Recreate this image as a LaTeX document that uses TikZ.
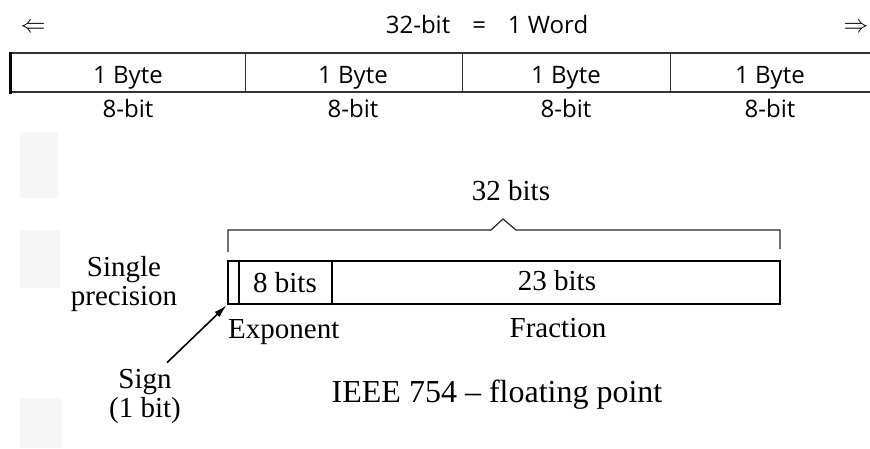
\documentclass[tikz,border=0pt]{standalone}
\usepackage{fontspec}
\setmainfont{Liberation Serif}
\newfontfamily\wordfont{Open Sans}
\usetikzlibrary{arrows.meta}

\tikzset{
  wordtext/.style={font=\wordfont\fontsize{24}{24}\selectfont, inner sep=0pt, anchor=base},
  booktext/.style={font=\fontsize{29}{29}\selectfont, inner sep=0pt},
  gridline/.style={line width=1.4pt, black!80},
  fieldline/.style={line width=1.8pt},
  frameline/.style={line width=2.8pt},
  signarrow/.style={-{Latex[length=13pt,width=7pt]}, line width=1.6pt},
}

\begin{document}
\begin{tikzpicture}[x=1pt,y=-1pt]
  \useasboundingbox (0,0) rectangle (870,448);

  % Scan shading on the left margin
  \fill[black!3] (20,132) rectangle (58,198);
  \fill[black!3] (20,230) rectangle (60,288);
  \fill[black!3] (20,398) rectangle (62,448);

  % Word header
  \node[font=\fontsize{27}{27}\selectfont] (larrow) at (33,28) {$\Leftarrow$};
  \node[wordtext] (word) at (487,33) {32-bit\hspace{22pt}=\hspace{22pt}1 Word};
  \node[font=\fontsize{27}{27}\selectfont] (rarrow) at (856,28) {$\Rightarrow$};

  % Byte table
  \draw[gridline] (10,53) -- (870,53);
  \draw[gridline] (10,92) -- (870,92);
  \draw[line width=3pt] (10,51.5) -- (10,93.5);
  \foreach \x in {245,462,670}
    \draw[gridline, line width=1pt] (\x,53) -- (\x,92);
  \foreach \x/\n in {128/1,353/2,566/3,770/4} {
    \node[wordtext] (byte\n) at (\x,83) {1 Byte};
    \node[wordtext] (bits\n) at (\x,117) {8-bit};
  }

  % Bracket over the single precision word
  \node[booktext, anchor=base] (total) at (511,200) {32 bits};
  \draw[line width=1.2pt, black!85] (228,252) -- (228,230) -- (491,230)
    -- (503,219) -- (516,230) -- (780,230) -- (780,249);

  % Fields: sign, exponent, fraction
  \draw[frameline] (228,261) rectangle (780,304);
  \draw[fieldline] (239,261) -- (239,304);
  \draw[fieldline] (332,261) -- (332,304);
  \node[booktext, anchor=base] (expbits) at (285,292) {8 bits};
  \node[booktext, anchor=base] (fracbits) at (557,290) {23 bits};
  \node[booktext, anchor=base west] (exponent) at (228,338) {Exponent};
  \node[booktext, anchor=base] (fraction) at (558,337) {Fraction};
  \coordinate (signbit) at (228,304);

  % Labels on the left
  \node[booktext, align=center] (single) at (124,284) {Single\\precision};
  \node[booktext, align=center] (sign) at (145,396) {Sign\\(1 bit)};
  \draw[signarrow, shorten >=2pt] ([xshift=-14pt,yshift=6pt]sign.north east) -- (signbit);

  % Title
  \node[font=\fontsize{32}{32}\selectfont, inner sep=0pt, anchor=base] (title) at (497,402) {IEEE 754 -- floating point};
\end{tikzpicture}
\end{document}
